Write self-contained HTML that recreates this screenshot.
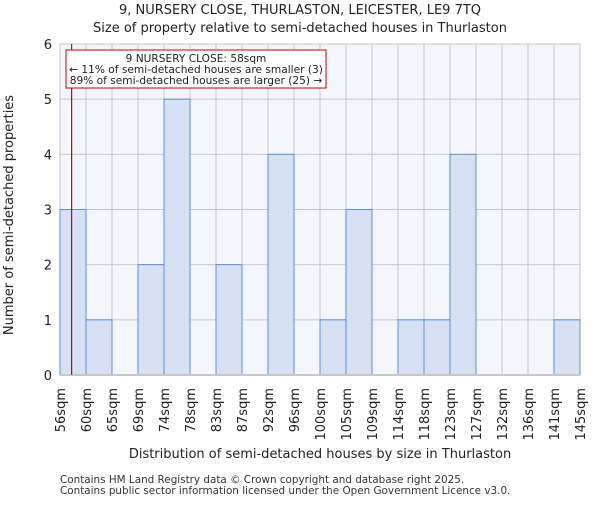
<!DOCTYPE html>
<html><head><meta charset="utf-8"><style>body{margin:0;background:#fff}svg{font-family:"DejaVu Sans","Liberation Sans",sans-serif}</style></head>
<body>
<svg id="c" width="600" height="500" xmlns="http://www.w3.org/2000/svg">
<text x="300" y="14" text-anchor="middle" font-size="13" fill="#222">9, NURSERY CLOSE, THURLASTON, LEICESTER, LE9 7TQ</text>
<text x="300" y="32" text-anchor="middle" font-size="13" fill="#222">Size of property relative to semi-detached houses in Thurlaston</text>
<rect x="60" y="44" width="520" height="331" fill="#f3f6fd"/>
<g id="grid"></g><g id="bars"></g><g id="axes"></g>
<text transform="translate(13,215) rotate(-90)" text-anchor="middle" font-size="13" fill="#222">Number of semi-detached properties</text>
<text x="320" y="458" text-anchor="middle" font-size="13" fill="#222">Distribution of semi-detached houses by size in Thurlaston</text>
<text x="60" y="483" font-size="10.4" fill="#333">Contains HM Land Registry data © Crown copyright and database right 2025.</text>
<text x="60" y="494" font-size="10.4" fill="#333">Contains public sector information licensed under the Open Government Licence v3.0.</text>
<line id="marker" y1="44" y2="375" stroke="#cc0000" stroke-width="1.2"/>
<rect x="66" y="50" width="260" height="38" fill="#fff" stroke="#cc0000" stroke-width="1"/>
<text x="196" y="62" text-anchor="middle" font-size="10.6" fill="#222">9 NURSERY CLOSE: 58sqm</text>
<text x="196" y="73" text-anchor="middle" font-size="10.6" fill="#222">← 11% of semi-detached houses are smaller (3)</text>
<text x="196" y="84" text-anchor="middle" font-size="10.6" fill="#222">89% of semi-detached houses are larger (25) →</text>
</svg>
<script>
const tickLabels=["56sqm","60sqm","65sqm","69sqm","74sqm","78sqm","83sqm","87sqm","92sqm","96sqm","100sqm","105sqm","109sqm","114sqm","118sqm","123sqm","127sqm","132sqm","136sqm","141sqm","145sqm"];
const counts=[3,1,0,2,5,0,2,0,4,0,1,3,0,1,1,4,0,0,0,1];
const yTicks=[0,1,2,3,4,5,6];
const markerValue=58;
const binStart=56, binEnd=145.5;
const NS="http://www.w3.org/2000/svg";
const X0=60,X1=580,Y0=375,Y1=44;
const nb=counts.length, bw=(X1-X0)/nb;
const xi=i=>X0+i*bw;
const y=v=>Y0-(v/6)*(Y0-Y1);
function mk(t,a,p){const e=document.createElementNS(NS,t);for(const k in a)e.setAttribute(k,a[k]);p.appendChild(e);return e;}
const grid=document.getElementById('grid'),bars=document.getElementById('bars'),axes=document.getElementById('axes');
yTicks.forEach(v=>{const l=mk('line',{x1:X0,x2:X1,y1:y(v),y2:y(v),stroke:'#c8c8c8','stroke-width':1},grid);


const t=mk('text',{x:52,y:y(v)+5,'text-anchor':'end','font-size':13,fill:'#222'},axes);t.textContent=v;

});
tickLabels.forEach((s,i)=>{const l=mk('line',{x1:xi(i),x2:xi(i),y1:Y1,y2:Y0,stroke:'#c8c8c8','stroke-width':1},grid);


const t=mk('text',{transform:`translate(${xi(i)+5},388) rotate(-90)`,'text-anchor':'end','font-size':13,fill:'#222'},axes);t.textContent=s;

});
counts.forEach((c,i)=>{if(!c)return;const r=mk('rect',{x:xi(i),y:y(c),width:bw,height:Y0-y(c),fill:'#d6e1f3',stroke:'#5b8fd9','stroke-width':1},bars);

});
const ax=mk('line',{x1:X0,x2:X1,y1:Y0,y2:Y0,stroke:'#c8c8c8','stroke-width':2},axes);


const mx=X0+(markerValue-binStart)/(binEnd-binStart)*(X1-X0);
const m=document.getElementById('marker');m.setAttribute('x1',mx);m.setAttribute('x2',mx);
</script>
</body></html>
